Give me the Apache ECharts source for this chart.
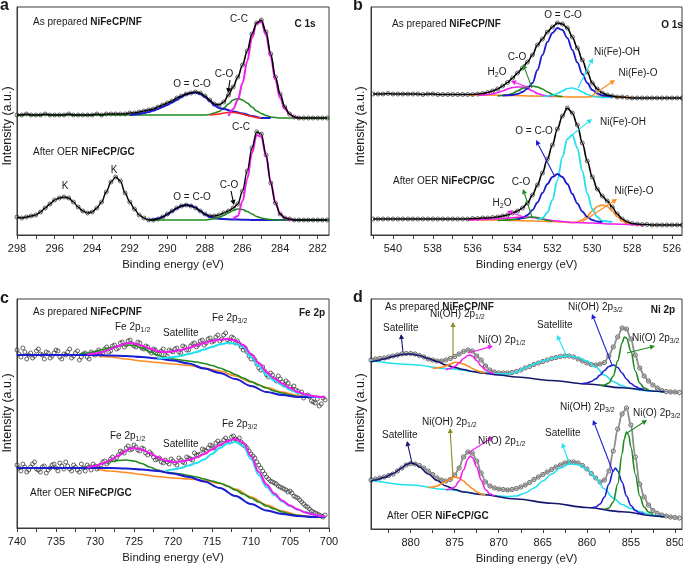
<!DOCTYPE html>
<html><head><meta charset="utf-8">
<script src="https://cdn.jsdelivr.net/npm/echarts@6/dist/echarts.min.js"></script>
<style>html,body{margin:0;padding:0;background:#fff}#c{width:683px;height:570px}</style>
</head><body><div id="c"></div>
<script>
// ---------------- Panel a : C 1s ----------------
const aEnergy = [298,297.75,297.5,297.25,297,296.75,296.5,296.25,296,295.75,295.5,295.25,295,294.75,294.5,294.25,294,293.75,293.5,293.25,293,292.75,292.5,292.25,292,291.75,291.5,291.25,291,290.75,290.5,290.25,290,289.75,289.5,289.25,289,288.75,288.5,288.25,288,287.75,287.5,287.25,287,286.75,286.5,286.25,286,285.75,285.5,285.25,285,284.75,284.5,284.25,284,283.75,283.5,283.25,283,282.75,282.5,282.25,282,281.75,281.5];
const aPrepared = [120,120,121,120,120,120,121,120,120,120,120,121,120,120,120,120,120,121,120,121,121,121,121,121,122,122,123,124,125,126,128,130,132,134,137,139,141,142,143,142,139,135,131,130,133,140,148,158,170,184,201,212,215,203,181,158,141,128,121,118,117,117,117,117,117,117,117];
const aAfter = [18,17,18,19,20,23,27,31,35,37,38,37,33,28,24,22,23,27,33,43,53,58,54,42,33,26,20,17,15,15,16,18,21,24,27,29,30,29,27,24,21,19,19,20,22,24,27,31,44,64,87,103,101,80,52,32,21,17,16,15,15,15,15,15,15,15,15];
const aPrepGreen = [[298,120],[290,120],[288,120],[287.75,120.5],[287.5,122],[287.25,123.5],[287,127],[286.75,131],[286.5,135],[286.25,136.5],[286,135],[285.75,132],[285.5,128],[285.25,124],[285,121.5],[284.75,119.5],[284.5,118],[284.25,117.5],[284,117],[281.4,117]];
const aPrepBlue = [[292,120],[291.75,120.5],[291.5,121],[291.25,122],[291,123],[290.75,124.5],[290.5,126],[290.25,128],[290,130],[289.75,132.5],[289.5,135],[289.25,138],[289,140.5],[288.75,142],[288.5,142.5],[288.25,141],[288,138],[287.75,134],[287.5,129.5],[287.25,127],[287,126],[286.5,123.5],[286,121.5],[285.5,119],[285,117],[284.5,117]];
const aPrepRed = [[287.75,120],[287.5,120.5],[287.25,121],[287,122],[286.75,122.5],[286.5,122.5],[286.25,122],[286,121],[285.75,119.5],[285.5,118.5],[285.25,117.5],[285,117]];
const aPrepMagenta = [[286.75,119],[286.5,126],[286.25,135],[286,152],[285.75,174],[285.5,197],[285.25,212],[285,213],[284.75,200],[284.5,178],[284.25,155],[284,137],[283.75,126],[283.5,121],[283.25,118],[283,117]];
const aAftBlue = [[291,15],[290.75,15.5],[290.5,16.5],[290.25,18],[290,20.5],[289.75,23.5],[289.5,26.5],[289.25,29],[289,30],[288.75,29.5],[288.5,27.5],[288.25,24],[288,20.5],[287.75,18],[287.5,16.8],[287.25,16.2],[287,16],[286.5,15.6],[286,15.3],[285.5,15],[281.4,15]];
const aAftGreen = [[291,15],[288,15],[287.75,15.5],[287.5,16.3],[287.25,17.5],[287,19.5],[286.75,22],[286.5,24.5],[286.25,26],[286,25.5],[285.75,23.5],[285.5,21],[285.25,18.5],[285,17],[284.75,16],[284.5,15.5],[284.25,15],[281.4,15]];
const aAftMagenta = [[286.5,16],[286.25,19],[286,34],[285.75,56],[285.5,82],[285.25,100],[285,98],[284.75,79],[284.5,53],[284.25,32],[284,21],[283.75,17],[283.5,15.5],[283.25,15]];
const aTickLabels = [282,284,286,288,290,292,294,296,298];
const aTickMarks = [282,283,284,285,286,287,288,289,290,291,292,293,294,295,296,297,298];

// ---------------- Panel b : O 1s ----------------
const bEnergy = [541,540.75,540.5,540.25,540,539.75,539.5,539.25,539,538.75,538.5,538.25,538,537.75,537.5,537.25,537,536.75,536.5,536.25,536,535.75,535.5,535.25,535,534.75,534.5,534.25,534,533.75,533.5,533.25,533,532.75,532.5,532.25,532,531.75,531.5,531.25,531,530.75,530.5,530.25,530,529.75,529.5,529.25,529,528.75,528.5,528.25,528,527.75,527.5,527.25,527,526.75,526.5,526.25,526,525.75,525.5];
const bPrepared = [141,141,141,141.5,141,141,141,141,141,141,140.5,141,141,140.5,140.5,140.5,140.5,140.5,140.5,140.5,140.5,141,141.5,142.5,144,146,149,152.5,157,162,167,173,180,190,196,203,208,212,211,207,198,187,175,163,152,146,142,140,139,138,138,137.5,137,137,137,137,137,137,137,137,137,137,137];
const bAfter = [16,16,16,16,16,16,16,16,16,16,16,16,16,16,16,16,16,16,16,16,16.5,16.5,17,17,17.5,18,19,20,22,24,27,32,40,50,62,76,90,106,119,127,122,110,92,74,58,46,39,34,28,21,16,13,11.5,11,10.5,10.5,10,10,10,10,10,10,10];
const bPrepOrange = [[536.25,140],[535,140],[534,139.5],[533,139],[532,138.5],[531,138],[530.25,138],[530,138.5],[529.5,139],[529,138.3],[528.5,137.8],[528,137.5]];
const bPrepMagenta = [[535.75,139.5],[535.5,140],[535,141],[534.75,142.5],[534.5,144],[534.25,146],[534,147.5],[533.75,148],[533.5,148],[533.25,146.5],[533,144],[532.75,141.5],[532.5,140],[532.25,139],[532,138.5]];
const bPrepGreen = [[534.75,139],[534.5,139.5],[534.25,140],[534,141.5],[533.75,144],[533.5,146.5],[533.25,148.5],[533,149],[532.75,148],[532.5,146],[532.25,143],[532,140.5],[531.75,139],[531.5,138.5]];
const bPrepCyan = [[532.5,138.5],[532.25,139],[532,139.5],[531.75,141.5],[531.5,144],[531.25,146.5],[531,147],[530.75,145.5],[530.5,143],[530.25,140.5],[530,139],[529.75,138],[529.5,137.5],[529,137.5]];
const bPrepBlue = [[534.5,139.5],[534,140],[533.75,141],[533.5,143],[533.25,146.5],[533,152],[532.75,165],[532.5,180],[532.25,193],[532,202],[531.75,207],[531.5,205],[531.25,197],[531,185],[530.75,172.5],[530.5,161],[530.25,152],[530,145],[529.75,141.5],[529.5,139.5],[529,138.5]];
const bAftOrange = [[536.25,15.5],[535,15],[534,14.5],[533,14],[532,13.5],[531,12.5],[530.75,13],[530.5,15],[530.25,19],[530,24],[529.75,28.5],[529.5,30],[529.25,28.5],[529,24],[528.75,18.5],[528.5,14],[528.25,11.5],[528,10.5],[527.5,10]];
const bAftMagenta = [[536.25,15],[535.5,15.5],[535,16],[534.5,16.5],[534,17.3],[533.5,18],[533.25,18],[533,17.5],[532.5,16],[532,14.5],[531.5,13.5],[531,12.5],[530,12],[529,11],[528,10.5],[527.4,10]];
const bAftGreen = [[534.75,14.5],[534.5,14.8],[534,15.5],[533.5,16.8],[533.25,17.5],[533,18],[532.75,17.5],[532.5,16],[532.25,14.5],[532,13.5]];
const bAftCyan = [[532.75,15],[532.5,17],[532.25,22.5],[532,35],[531.75,54.5],[531.5,78],[531.25,96],[531,100],[530.75,87],[530.5,64],[530.25,41.5],[530,26],[529.75,18],[529.5,14],[529,13]];
const bAftBlue = [[533.75,15.5],[533.5,17],[533.25,20],[533,25],[532.75,32.5],[532.5,42],[532.25,51],[532,58],[531.75,61],[531.5,58],[531.25,51],[531,41],[530.75,31.5],[530.5,23.5],[530.25,18],[530,15],[529.75,13.5],[529.5,13]];
const bTickLabels = [526,528,530,532,534,536,538,540];
const bTickMarks = [526,527,528,529,530,531,532,533,534,535,536,537,538,539,540,541];

// ---------------- Panel c : Fe 2p ----------------
const cEnergy = [740,739.5,739,738.5,738,737.5,737,736.5,736,735.5,735,734.5,734,733.5,733,732.5,732,731.5,731,730.5,730,729.5,729,728.5,728,727.5,727,726.5,726,725.5,725,724.5,724,723.5,723,722.5,722,721.5,721,720.5,720,719.5,719,718.5,718,717.5,717,716.5,716,715.5,715,714.5,714,713.5,713,712.5,712,711.5,711,710.5,710,709.5,709,708.5,708,707.5,707,706.5,706,705.5,705,704.5,704,703.5,703,702.5,702,701.5,701,700.5];
const cPrepared = [178,171,176,173,170,177,174,169,175,172, 178,171,174,176,170,175,168,174,171,176, 173,178,175,181,177,183,180,186,183,188, 182,186,180,182,177,179,174,177,173,178, 176,180,175,181,178,184,181,187,183,189, 186,191,187,193,188,191,185,184,178,176, 169,168,160,161,153,155,149,152,146,147, 141,142,137,136,132,131,126,129,124,128];
const cAfter = [63,57,61,58,64,59,56,62,58,63, 60,65,59,62,57,61,56,60,63,58, 62,60,66,64,69,68,73,76,80,78, 83,78,80,75,76,71,69,66,68,64, 67,63,68,65,70,68,73,74,78,80, 82,85,84,88,87,91,89,90,83,80, 74,70,63,57,51,47,45,42,40,38, 37,32,30,26,22,19,16,14,12,13];
const cEnergyMid = [739.75,739.25,738.75,738.25,737.75,737.25,736.75,736.25,735.75,735.25,734.75,734.25,733.75,733.25,732.75,732.25,731.75,731.25,730.75,730.25,729.75,729.25,728.75,728.25,727.75,727.25,726.75,726.25,725.75,725.25,724.75,724.25,723.75,723.25,722.75,722.25,721.75,721.25,720.75,720.25,719.75,719.25,718.75,718.25,717.75,717.25,716.75,716.25,715.75,715.25,714.75,714.25,713.75,713.25,712.75,712.25,711.75,711.25,710.75,710.25,709.75,709.25,708.75,708.25,707.75,707.25,706.75,706.25,705.75,705.25,704.75,704.25,703.75,703.25,702.75,702.25,701.75,701.25,700.75];
const cPreparedMid = [174,180,169,175,172,179,173,176,170,175, 177,169,173,179,172,177,171,175,169,174, 176,173,179,176,182,179,185,181,187,184, 181,185,179,181,175,178,174,179,172,177, 179,176,182,178,182,185,183,188,185,190, 187,193,189,195,186,190,187,181,180,172, 171,164,158,157,151,153,147,149,143,145, 139,138,134,130,133,127,125,122,130];
const cAfterMid = [60,64,56,61,66,58,61,55,60,64, 57,62,66,59,63,58,64,57,61,64, 59,63,67,66,71,70,77,75,82,79, 81,77,79,73,74,68,70,65,66,69, 65,70,66,71,69,75,73,79,77,83, 80,87,85,90,86,92,88,86,82,77, 72,66,60,54,49,46,44,41,39,36, 35,31,28,24,21,17,15,13,11];
const cPrepOrange = [[729.5,172],[728,171],[726,169],[724,167],[722,165.5],[720,164],[718,162.5],[716,160],[714,157],[712,152],[710,146],[708,140.5],[706,136],[704,132.5],[702,131],[700.5,131]];
const cPrepGreen = [[732,174],[731,175],[730,176.5],[729,178.5],[728,180.5],[727,182],[726,183],[725,182.5],[724,180],[723,176.5],[722,173],[721,170.5],[720,169],[719,168],[718,167],[717,166],[716,164.5],[715,162.5],[714,160],[713,157],[712,153.5],[711,150],[710,146.5],[709,143],[708,140],[707,137],[706,135],[705,133],[704,131.5],[702,131],[700.5,131]];
const cPrepBlue = [[740,173],[735,173],[730,173],[728,172.5],[726,172],[724,171],[722,169.5],[720,167.5],[718,164.5],[716,159.5],[714,155],[712,149],[710,142],[708,136],[706,133],[704,131],[700.5,131]];
const cPrepCyan = [[722,169.5],[721,170],[720,171],[719,172],[718,174],[717,176],[716,178.5],[715,181],[714,183.5],[713,185],[712,184.5],[711,181],[710,171],[709,162],[708,153],[707,147.5],[706,143],[705,138.5],[704,135],[703,133],[702,131.5],[701,131],[700.5,131]];
const cPrepMagenta = [[731,174],[730,174.5],[729,176],[728,179],[727,182],[726,184.5],[725.5,185],[725,184.5],[724,182.5],[723,179.5],[722,177],[721,176],[720,176.5],[719,178],[718,180],[717,182.5],[716,185],[715,187],[714,188.5],[713,189],[712,187.5],[711,183],[710,174],[709,165],[708,156],[707,149.5],[706,144.5],[705,140],[704,136],[703,133.5],[702,132],[701,131],[700.5,131]];
const cAftOrange = [[729.5,58.5],[728,57],[726,55.5],[724,53.5],[722,51.5],[720,50],[718,49],[716,47.5],[714,44.5],[712,39],[710,31],[708,23],[706,17],[704,13],[702,11],[700.5,11]];
const cAftGreen = [[732,60],[731,61],[730,62.5],[729,64.5],[728,66.5],[727,67.5],[726,68],[725,67],[724,64.5],[723,61],[722,58],[721,56],[720,55],[719,54],[718,52.5],[717,51],[716,49],[715,47],[714,45],[713,42],[712,38],[711,34],[710,30],[709,26],[708,22],[707,19],[706,16],[705,14],[704,12.5],[702,11],[700.5,11]];
const cAftBlue = [[740,60],[728,60],[726,59.5],[724,58.5],[722,57],[720,54.5],[718,51],[716,46.5],[714,40],[712,32],[710,24],[708,17.5],[706,14],[704,12],[702,11],[700.5,11]];
const cAftCyan = [[721,57],[720,58.5],[719,60],[718,62.5],[717,65],[716,68.5],[715,74],[714,80],[713,84.5],[712,86],[711,82],[710,69],[709,53],[708,41],[707,33],[706,26.5],[705,22],[704,18.5],[703,15.5],[702,13.5],[701,12],[700.5,11.5]];
const cAftMagenta = [[731,60.5],[730,62],[729,64.5],[728,68],[727,72.5],[726,77],[725.5,79.5],[725,80],[724,78.5],[723,75],[722,71],[721,67.5],[720,66],[719,66.5],[718,68],[717,70.5],[716,74],[715,78.5],[714,83],[713,87],[712,89],[711,85.5],[710,72],[709,56],[708,43.5],[707,34.5],[706,27.5],[705,22.5],[704,18.5],[703,15.5],[702,13.5],[701,12],[700.5,11.5]];
const cTickLabels = [700,705,710,715,720,725,730,735,740];
const cTickMarks = [700,702.5,705,707.5,710,712.5,715,717.5,720,722.5,725,727.5,730,732.5,735,737.5,740];

// ---------------- Panel d : Ni 2p ----------------
const dEnergy = [884.5,884,883.5,883,882.5,882,881.5,881,880.5,880,879.5,879,878.5,878,877.5,877,876.5,876,875.5,875,874.5,874,873.5,873,872.5,872,871.5,871,870.5,870,869.5,869,868.5,868,867.5,867,866.5,866,865.5,865,864.5,864,863.5,863,862.5,862,861.5,861,860.5,860,859.5,859,858.5,858,857.5,857,856.5,856,855.5,855,854.5,854,853.5,853,852.5,852,851.5,851,850.5,850,849.5];
const dPrepared = [169,170,170.5,171,172,173,174,175,175.5,175.5, 175,173.5,172,170,169,168,168,169,170.5,172.5, 175,177.5,179,178,173,169,163,159,157,156, 156,156,156.5,157.5,159,161,162.5,164.5,166,167.5, 169,170.5,171.5,172.5,173,173,172,170,168,166, 164.5,164,165,166.5,173,182,192,201,200,190, 174,161,153,148,144,141,138.5,137.5,137,137, 136.5];
const dAfter = [49,50,51,52,53.5,55,58,61,64,65.5, 65,63.5,61,58,54.5,51,49,48,49.5,54, 61,72,77,76,68,56,47,43,41,40, 39.5,39,39.5,40.5,42,44,46.5,49.5,52,54.5, 57,59.5,62,64,66,67,67,66,63.5,60, 55.5,51,47,49,58,78,100,115,121,104, 72,45,32,24,18.5,15.5,14,13,12,11.5, 11];
const dPrepNavy = [[884.5,167],[884,168],[883,170],[882,172.5],[881,174.5],[880.3,175],[880,175],[879,173.5],[878,170.5],[877,167.5],[876,164],[875,161.5],[874,159.5],[873,157.5],[872,156],[870,154],[868,152],[864,148.5],[860,145],[856,141.3],[852,137.7],[851.2,137]];
const dPrepCyan = [[884.5,168.5],[880,164.5],[876,160.5],[872,157],[870,155.3],[869,155],[868,157],[867,161],[866,165],[865,168],[864,170.5],[863,172.5],[862,173],[861,171.5],[860,168],[859,162],[858,154],[857,147.5],[856,143],[855,140.5],[854,139],[853,138],[851.2,137]];
const dPrepOrange = [[877.5,160.7],[877,161],[876.5,161.7],[876,163],[875.5,165],[875,166.5],[874.5,166.5],[874,165],[873.5,163],[873,160.5],[872.5,158.5],[872,157],[871.5,156.3]];
const dPrepMagenta = [[876,159.3],[875.5,160.5],[875,162.5],[874.5,166],[874,170.5],[873.5,173.5],[873.25,174],[873,173],[872.5,168.5],[872,163],[871.5,159],[871,156.5],[870.5,155.3]];
const dPrepBlue = [[860.5,145.5],[860,146],[859.5,147.5],[859,150],[858.5,154],[858,158.5],[857.5,162.5],[857,164],[856.5,161.5],[856,156],[855.5,150],[855,145.5],[854.5,142.5],[854,140.5],[853.5,139.5]];
const dPrepGreen = [[858.5,143.5],[858,144],[857.5,146],[857,153],[856.5,168],[856,186],[855.75,192],[855.5,191],[855,178],[854.5,158],[854,146],[853.5,141],[853,139]];
const dAftNavy = [[884.5,48],[884,49],[883,51.5],[882,55.5],[881,61],[880.5,64.5],[880,66],[879.5,65],[879,62],[878,55],[877,48.5],[876,43],[875,39.5],[874,37],[872,34.5],[868,30],[864,25.8],[860,21.5],[856,17.2],[852,12.9],[851.2,12]];
const dAftCyan = [[884.5,49],[880,44],[876,39.5],[872,35],[870,33],[869,32.5],[868,33],[867,36],[866,41],[865,48],[864,55],[863,61],[862,65],[861,64.5],[860,60],[859,51],[858,40],[857,31],[856,24.5],[855,20.5],[854,17.5],[853,15],[852,13.5],[851.2,12.5]];
const dAftOrange = [[878,41.5],[877.5,42],[877,43],[876.5,45],[876,47.5],[875.5,50.5],[875,52],[874.5,51],[874,48],[873.5,44],[873,40.5],[872.5,37],[872,35],[871.5,34]];
const dAftMagenta = [[876,39],[875.5,40],[875,42],[874.5,48],[874,59],[873.5,70],[873.25,73],[873,71.5],[872.5,62],[872,49],[871.5,39.5],[871,35],[870.5,33]];
const dAftBlue = [[859.5,21],[859,22],[858.5,25],[858,32],[857.5,45],[857,58],[856.75,61],[856.5,58],[856,47],[855.5,33],[855,23.5],[854.5,18.5],[854,16],[853.5,15]];
const dAftGreen = [[858,19.5],[857.5,21],[857,27],[856.5,45],[856,75],[855.75,90],[855.5,97],[855.25,94],[855,82],[854.5,55],[854,33],[853.5,22],[853,17],[852.5,14.5]];
const dTickLabels = [850,855,860,865,870,875,880];
const dTickMarks = [850,852.5,855,857.5,860,862.5,865,867.5,870,872.5,875,877.5,880,882.5];

// ---------------- build ----------------
const FONT = '"Liberation Sans", Arial, Helvetica, sans-serif';
const MAGENTA = '#f01cf0', BLUE = '#1c1cd0', NAVY = '#16166e', GREEN = '#1f8a1f', CYAN = '#22e0ee',
      ORANGE = '#ff8a1e', RED = '#ff2020', OLIVE = '#8a8a1e', GRAY = '#8c8c8c', INK = '#1a1a1a';

const chart = echarts.init(document.getElementById('c'), null, {renderer: 'canvas'});
const zip = (xs, ys) => xs.map((x, i) => [x, ys[i]]);

const gridBoxes = [
  {left: 17, top: 7, width: 312, height: 228},
  {left: 371, top: 7, width: 311, height: 228},
  {left: 17, top: 299, width: 312, height: 229},
  {left: 371, top: 299, width: 311, height: 230}
];
const ranges = [[281.4, 298], [525.5, 541.1], [700, 740], [849.2, 884.5]];
const labelVals = [aTickLabels, bTickLabels, cTickLabels, dTickLabels];
const tickVals = [aTickMarks, bTickMarks, cTickMarks, dTickMarks];

const grid = gridBoxes.map(g => Object.assign({show: true, borderColor: '#3a3a3a', borderWidth: 1, backgroundColor: 'transparent',
  containLabel: false, outerBoundsMode: 'none'}, g));
const xAxis = gridBoxes.map((g, i) => ({
  type: 'value', gridIndex: i, inverse: true, min: ranges[i][0], max: ranges[i][1],
  axisLine: {show: true, onZero: false, lineStyle: {color: '#3a3a3a', width: 1}},
  axisTick: {show: true, inside: false, length: 4, customValues: tickVals[i], lineStyle: {color: '#3a3a3a'}},
  axisLabel: {show: true, customValues: labelVals[i], fontSize: 11, fontFamily: FONT, color: INK, margin: 8},
  splitLine: {show: false},
  name: 'Binding energy (eV)', nameLocation: 'middle', nameGap: i < 2 ? 24 : 24,
  nameTextStyle: {fontSize: 11.5, fontFamily: FONT, color: INK}
}));
const yAxis = gridBoxes.map((g, i) => ({
  type: 'value', gridIndex: i, min: 0, max: g.height,
  axisLine: {show: true, lineStyle: {color: '#3a3a3a'}}, axisTick: {show: false}, axisLabel: {show: false}, splitLine: {show: false}
}));

function curve(gi, data, color, width) {
  return {type: 'line', xAxisIndex: gi, yAxisIndex: gi, data: data, showSymbol: false, smooth: 0.35, smoothMonotone: 'x',
          lineStyle: {color: color, width: width || 1.6}, silent: true, animation: false};
}
function points(gi, data, size) {
  return {type: 'scatter', xAxisIndex: gi, yAxisIndex: gi, data: data, symbol: 'circle', symbolSize: size || 4,
          itemStyle: {color: 'rgba(255,255,255,0.25)', borderColor: '#111', borderWidth: 0.8}, silent: true, animation: false};
}

const series = [
  // a
  curve(0, aPrepGreen, GREEN), curve(0, aPrepBlue, BLUE, 2), curve(0, aPrepRed, RED), curve(0, aPrepMagenta, MAGENTA, 2),
  curve(0, zip(aEnergy, aPrepared), '#000', 1.6), points(0, zip(aEnergy, aPrepared)),
  curve(0, aAftBlue, BLUE, 2), curve(0, aAftGreen, GREEN), curve(0, aAftMagenta, MAGENTA, 2),
  curve(0, zip(aEnergy, aAfter), '#000', 1.4), points(0, zip(aEnergy, aAfter)),
  // b
  curve(1, bPrepOrange, ORANGE), curve(1, bPrepMagenta, MAGENTA), curve(1, bPrepGreen, GREEN), curve(1, bPrepCyan, CYAN), curve(1, bPrepBlue, BLUE, 1.8),
  curve(1, zip(bEnergy, bPrepared), '#000', 1.6), points(1, zip(bEnergy, bPrepared)),
  curve(1, bAftOrange, ORANGE), curve(1, bAftMagenta, MAGENTA), curve(1, bAftGreen, GREEN), curve(1, bAftCyan, CYAN, 1.8), curve(1, bAftBlue, BLUE, 1.8),
  curve(1, zip(bEnergy, bAfter), '#000', 1.6), points(1, zip(bEnergy, bAfter)),
  // c
  points(2, zip(cEnergy, cPrepared), 4), points(2, zip(cEnergyMid, cPreparedMid), 4),
  points(2, zip(cEnergy, cAfter), 4), points(2, zip(cEnergyMid, cAfterMid), 4),
  curve(2, cPrepOrange, ORANGE), curve(2, cPrepGreen, GREEN), curve(2, cPrepBlue, BLUE, 2), curve(2, cPrepCyan, CYAN, 2), curve(2, cPrepMagenta, MAGENTA, 2),
  curve(2, cAftOrange, ORANGE), curve(2, cAftGreen, GREEN), curve(2, cAftBlue, BLUE, 2), curve(2, cAftCyan, CYAN, 2), curve(2, cAftMagenta, MAGENTA, 2),
  // d
  curve(3, zip(dEnergy, dPrepared), GRAY, 1.8), points(3, zip(dEnergy, dPrepared), 4.2),
  curve(3, zip(dEnergy, dAfter), GRAY, 1.8), points(3, zip(dEnergy, dAfter), 4.2),
  curve(3, dPrepCyan, CYAN), curve(3, dPrepNavy, NAVY), curve(3, dPrepOrange, ORANGE), curve(3, dPrepMagenta, MAGENTA), curve(3, dPrepBlue, BLUE), curve(3, dPrepGreen, GREEN),
  curve(3, dAftCyan, CYAN), curve(3, dAftNavy, NAVY), curve(3, dAftOrange, ORANGE), curve(3, dAftMagenta, MAGENTA), curve(3, dAftBlue, BLUE), curve(3, dAftGreen, GREEN)
];

// ---------------- annotations ----------------
const RICH = {
  b: {fontFamily: FONT, fontSize: 10, fontWeight: 'bold', fill: INK, color: INK, lineHeight: 14},
  s: {fontFamily: FONT, fontSize: 7, fill: INK, color: INK, verticalAlign: 'bottom', lineHeight: 8}
};
function txt(x, y, text, o) {
  o = o || {};
  return {type: 'text', x: x, y: y, z: 100, silent: true, rotation: o.rot || 0,
    style: {text: text, rich: RICH, fontFamily: FONT, fontSize: o.size || 10, fontWeight: o.bold ? 'bold' : 'normal',
            fill: INK, align: o.align || 'left', verticalAlign: 'middle', lineHeight: 14}};
}
function arrow(x1, y1, x2, y2, color) {
  const a = Math.atan2(y2 - y1, x2 - x1), L = 5, W = 2.6;
  const bx = x2 - L * Math.cos(a), by = y2 - L * Math.sin(a);
  return [
    {type: 'line', z: 99, silent: true, shape: {x1: x1, y1: y1, x2: bx, y2: by}, style: {stroke: color, lineWidth: 1.1}},
    {type: 'polygon', z: 99, silent: true, shape: {points: [[x2, y2], [bx - W * Math.sin(a), by + W * Math.cos(a)], [bx + W * Math.sin(a), by - W * Math.cos(a)]]}, style: {fill: color}}
  ];
}
const C = {align: 'center'};
const graphic = [
  txt(0, 6, 'a', {bold: true, size: 16}), txt(353, 6, 'b', {bold: true, size: 16}),
  txt(0, 299, 'c', {bold: true, size: 16}), txt(353, 298, 'd', {bold: true, size: 16}),
  txt(8, 126, 'Intensity (a.u.)', {rot: Math.PI / 2, align: 'center', size: 12.5}),
  txt(361, 126, 'Intensity (a.u.)', {rot: Math.PI / 2, align: 'center', size: 12.5}),
  txt(8, 413, 'Intensity (a.u.)', {rot: Math.PI / 2, align: 'center', size: 12.5}),
  txt(361, 413, 'Intensity (a.u.)', {rot: Math.PI / 2, align: 'center', size: 12.5}),
  // a
  txt(33, 22, 'As prepared {b|NiFeCP/NF}'), txt(305, 24, 'C 1s', {bold: true, align: 'center'}),
  txt(239, 19, 'C-C', C), txt(192, 84, 'O = C-O', C), txt(224, 74, 'C-O', C),
  ...arrow(230, 80, 228, 93, '#000'),
  txt(33, 152, 'After OER {b|NiFeCP/GC}'), txt(65, 186, 'K', C), txt(114, 170, 'K', C),
  txt(192, 197, 'O = C-O', C), txt(229, 185, 'C-O', C), ...arrow(231, 191, 234, 205, '#000'),
  txt(241, 127, 'C-C', C),
  // b
  txt(392, 24, 'As prepared {b|NiFeCP/NF}'), txt(672, 25, 'O 1s', {bold: true, align: 'center'}),
  txt(563, 15, 'O = C-O', C),
  txt(517, 57, 'C-O', C), ...arrow(532, 88, 523, 64, GREEN),
  txt(497, 72, 'H{s|2}O', C), ...arrow(530, 88, 511, 81, MAGENTA),
  txt(617, 52, 'Ni(Fe)-OH', C), ...arrow(578, 88, 593, 58, CYAN),
  txt(638, 73, 'Ni(Fe)-O', C), ...arrow(590, 97, 615, 80, ORANGE),
  txt(393, 181, 'After OER {b|NiFeCP/GC}'),
  txt(521, 182, 'C-O', C), ...arrow(532, 217, 523, 189, GREEN),
  txt(502, 203, 'H{s|2}O', C), ...arrow(527, 218, 507, 211, MAGENTA),
  txt(534, 131, 'O = C-O', C), ...arrow(555, 177, 536, 140, BLUE),
  txt(623, 122, 'Ni(Fe)-OH', C), ...arrow(572, 135, 592, 119, CYAN),
  txt(634, 191, 'Ni(Fe)-O', C), ...arrow(582, 222, 617, 199, ORANGE),
  // c
  txt(33, 312, 'As prepared {b|NiFeCP/NF}'), txt(312, 313, 'Fe 2p', {bold: true, align: 'center'}),
  txt(115, 327, 'Fe 2p{s|1/2}'), txt(163, 333, 'Satellite'), txt(212, 318, 'Fe 2p{s|3/2}'),
  txt(110, 436, 'Fe 2p{s|1/2}'), txt(163, 444, 'Satellite'), txt(222, 424, 'Fe 2p{s|3/2}'),
  txt(30, 493, 'After OER {b|NiFeCP/GC}'),
  // d
  txt(385, 307, 'As prepared {b|NiFeCP/NF}'), txt(663, 310, 'Ni 2p', {bold: true, align: 'center'}),
  txt(383, 328, 'Satellite'), ...arrow(403, 352, 401, 334, NAVY),
  txt(430, 314, 'Ni(OH) 2p{s|1/2}'), ...arrow(453, 358, 453, 322, OLIVE),
  txt(478, 340, 'Ni(O) 2p{s|1/2}'), ...arrow(468, 353, 493, 346, MAGENTA),
  txt(537, 325, 'Satellite'), ...arrow(567, 357, 557, 335, CYAN),
  txt(568, 307, 'Ni(OH) 2p{s|3/2}'), ...arrow(612, 365, 592, 314, BLUE),
  txt(632, 338, 'Ni(O) 2p{s|3/2}'), ...arrow(627, 353, 655, 346, GREEN),
  txt(382, 435, 'Satellite'), ...arrow(412, 463, 407, 441, NAVY),
  txt(422, 422, 'Ni(OH) 2p{s|1/2}'), ...arrow(453, 477, 450, 428, OLIVE),
  txt(478, 441, 'Ni(O) 2p{s|1/2}'), ...arrow(468, 453, 493, 437, MAGENTA),
  txt(545, 433, 'Satellite'), ...arrow(570, 465, 562, 443, CYAN),
  txt(560, 407, 'Ni(OH) 2p{s|3/2}'), ...arrow(613, 472, 593, 420, BLUE),
  txt(633, 413, 'Ni(O) 2p{s|3/2}'), ...arrow(627, 433, 647, 420, GREEN),
  txt(387, 516, 'After OER {b|NiFeCP/GC}')
];

chart.setOption({
  animation: false, backgroundColor: '#fff',
  grid: grid, xAxis: xAxis, yAxis: yAxis, series: series, graphic: graphic
});
</script></body></html>
